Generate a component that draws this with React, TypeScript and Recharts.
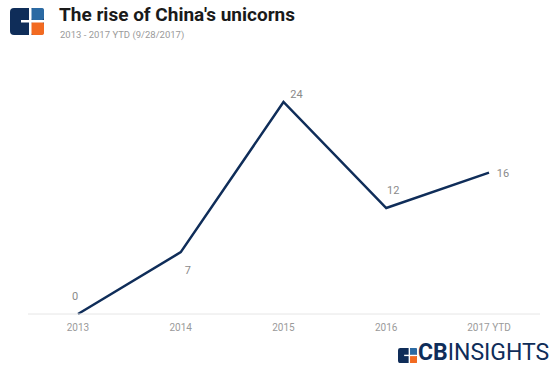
import React from 'react';
import { LineChart, Line, XAxis, YAxis, LabelList } from 'recharts';

const years = ['2013', '2014', '2015', '2016', '2017 YTD'];
const unicorns = [0, 7, 24, 12, 16];

const data = years.map((y, i) => ({ year: y, value: unicorns[i] }));

const labelOffsets: [number, number][] = [
  [-3, -14],
  [7, 22],
  [13, -4],
  [7, -14],
  [14, 4],
];

const NAVY = '#0f2d59';

const renderLabel = (props: any) => {
  const { x, y, value, index } = props;
  const [dx, dy] = labelOffsets[index] || [0, 0];
  return (
    <text x={x + dx} y={y + dy} fill="#8a8a8a" fontSize={11} fontFamily="Roboto, sans-serif" textAnchor="middle">
      {value}
    </text>
  );
};

const Logo = ({ x, y, s }: { x: number; y: number; s: number }) => (
  <svg style={{ position: 'absolute', left: x, top: y }} width={34 * s} height={27 * s} viewBox="0 0 34 27">
    <rect x={0} y={0} width={34} height={27} rx={4} fill={NAVY} />
    <rect x={21} y={0} width={13} height={12} rx={2} fill="#2b6aa3" />
    <rect x={21} y={14} width={13} height={13} rx={2} fill="#f26a21" />
    <rect x={19} y={0} width={2.5} height={27} fill="#fff" />
    <rect x={11} y={12} width={23} height={2.5} fill="#fff" />
  </svg>
);

export default function App() {
  return (
    <div style={{ position: 'absolute', left: 0, top: 0, width: 557, height: 372, background: '#fff', fontFamily: 'Roboto, sans-serif' }}>
      <Logo x={10} y={8} s={1} />
      <div style={{ position: 'absolute', left: 59, top: 3, fontSize: 19, fontWeight: 700, color: '#1a1a1a', whiteSpace: 'nowrap' }}>
        The rise of China's unicorns
      </div>
      <div style={{ position: 'absolute', left: 60, top: 29, fontSize: 9.5, color: '#9a9a9a', whiteSpace: 'nowrap' }}>
        2013 - 2017 YTD (9/28/2017)
      </div>
      <LineChart width={557} height={372} data={data} margin={{ top: 102, right: 17, bottom: 28, left: 28 }}>
        <XAxis
          dataKey="year"
          height={30}
          tickLine={false}
          tickMargin={4}
          padding={{ left: 50, right: 51 }}
          axisLine={{ stroke: '#e6e6e6', strokeWidth: 1 }}
          tick={{ fill: '#9a9a9a', fontSize: 10, fontFamily: 'Roboto, sans-serif' }}
          interval={0}
        />
        <YAxis hide domain={[0, 24]} />
        <Line
          type="linear"
          dataKey="value"
          stroke={NAVY}
          strokeWidth={2.5}
          dot={false}
          activeDot={false}
          isAnimationActive={false}
        >
          <LabelList dataKey="value" content={renderLabel} />
        </Line>
      </LineChart>
      <div style={{ position: 'absolute', left: 398, top: 346 }}>
        <Logo x={0} y={2} s={0.56} />
      </div>
      <div style={{ position: 'absolute', left: 418, top: 339, fontSize: 23, color: NAVY, whiteSpace: 'nowrap', letterSpacing: 0 }}>
        <span style={{ fontWeight: 700 }}>CB</span>
        <span style={{ fontWeight: 400 }}>INSIGHTS</span>
      </div>
    </div>
  );
}
